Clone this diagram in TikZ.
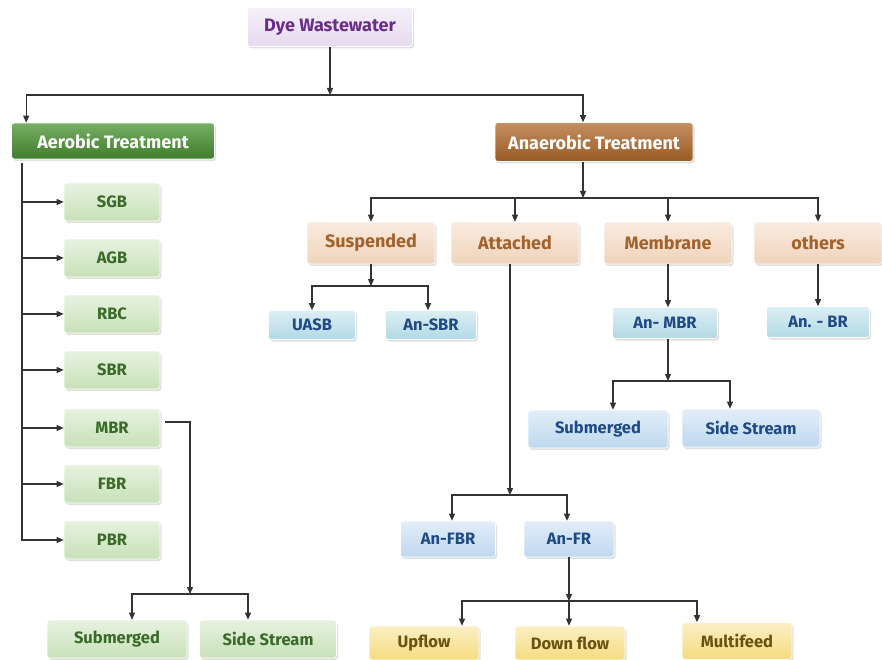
\documentclass[tikz,border=0pt]{standalone}
\usepackage{fontspec}
\setmainfont{Fira Sans}
\usetikzlibrary{arrows.meta, shadows}

\begin{document}
\begin{tikzpicture}[
    x=1pt, y=-1pt,
    every node/.style={font=\fontsize{16.5}{18}\selectfont\bfseries},
]

% ---------------------------------------------------------------- colours
\definecolor{rootfill}{HTML}{E6DAF0}   % dye wastewater
\definecolor{roottext}{HTML}{6A2C8A}
\definecolor{aerfill}{HTML}{4A9332}    % aerobic branch
\definecolor{anafill}{HTML}{B26A2C}    % anaerobic branch
\definecolor{tanfill}{HTML}{F1D3BA}
\definecolor{tantext}{HTML}{A2622C}
\definecolor{greenfill}{HTML}{C8E1B8}
\definecolor{greentext}{HTML}{3A6A28}
\definecolor{tealfill}{HTML}{B2DAE5}
\definecolor{bluefill}{HTML}{BED8EF}
\definecolor{bluetext}{HTML}{1F4A86}
\definecolor{yellowfill}{HTML}{F5DC7E}
\definecolor{yellowtext}{HTML}{6A5210}
\definecolor{linecolor}{HTML}{333333}

% ---------------------------------------------------------------- styles
\tikzset{
    box/.style={
        rectangle, rounded corners=3pt, inner sep=2pt,
        draw=white, line width=0.6pt,
        drop shadow={shadow xshift=1.5pt, shadow yshift=-2pt, opacity=0.25},
    },
    headfont/.style={font=\fontsize{18}{20}\selectfont\bfseries},
    rootbox/.style={box, headfont, top color=rootfill!40!white, bottom color=rootfill,
        text=roottext},
    aerbox/.style={box, headfont, top color=aerfill!75!white, bottom color=aerfill!85!black,
        text=white},
    anabox/.style={box, headfont, top color=anafill!75!white, bottom color=anafill!85!black,
        text=white},
    tanbox/.style={box, headfont, top color=tanfill!45!white, bottom color=tanfill,
        text=tantext, minimum width=128, minimum height=42},
    greenbox/.style={box, top color=greenfill!45!white, bottom color=greenfill,
        text=greentext},
    tealbox/.style={box, top color=tealfill!45!white, bottom color=tealfill,
        text=bluetext},
    bluebox/.style={box, top color=bluefill!45!white, bottom color=bluefill,
        text=bluetext},
    yellowbox/.style={box, top color=yellowfill!45!white, bottom color=yellowfill,
        text=yellowtext, minimum width=110, minimum height=34},
    link/.style={line width=1.2pt, linecolor},
    arr/.style={link, -{Triangle[length=7pt, width=6pt]}},
}

\useasboundingbox (0,0) rectangle (882,660);

% ---------------------------------------------------------------- top levels
\node[rootbox, minimum width=165, minimum height=39] (dye) at (330,27) {Dye Wastewater};
\node[aerbox, minimum width=203, minimum height=36] (aer) at (113,141) {Aerobic Treatment};
\node[anabox, minimum width=198, minimum height=39] (ana) at (594,142) {Anaerobic Treatment};

\coordinate (topbus) at (330,95);
\draw[arr] (dye) -- (topbus);
\draw[arr] (topbus) -| ([xshift=15]aer.north west);
\draw[arr] (topbus) -| ([xshift=-11]ana.north);

% ---------------------------------------------------------------- aerobic
\foreach \n/\t/\y in {sgb/SGB/202, agb/AGB/258, rbc/RBC/314, sbr/SBR/370,
                      mbr/MBR/428, fbr/FBR/484, pbr/PBR/540} {
    \node[greenbox, minimum width=96, minimum height=38] (\n) at (112,\y) {\t};
}

\coordinate (spine) at (22,163);
\draw[arr] (spine) |- (pbr.west);
\foreach \n in {sgb, agb, rbc, sbr, mbr, fbr} {
    \draw[arr] (spine |- \n.west) -- (\n.west);
}

\node[greenbox, minimum width=140, minimum height=38] (gsub) at (117,639) {Submerged};
\node[greenbox, minimum width=137, minimum height=38] (gside) at (268,639) {Side Stream};

\coordinate (mbrbus) at (190,594);
\draw[arr] ([xshift=5,yshift=6]mbr.east) -| (mbrbus);
\draw[arr] (mbrbus) -| ([xshift=15]gsub.north);
\draw[arr] (mbrbus) -| ([xshift=-20]gside.north);

% ---------------------------------------------------------------- anaerobic
\foreach \n/\t/\x in {susp/Suspended/371, att/Attached/515,
                      mem/Membrane/668, oth/others/818} {
    \node[tanbox] (\n) at (\x,243) {\t};
}

\coordinate (anabus) at (583,198);
\draw[arr] ([xshift=-11]ana.south) -- (anabus);
\foreach \n in {susp, att, mem, oth} {
    \draw[arr] (anabus) -| (\n.north);
}

% suspended
\node[tealbox, minimum width=87, minimum height=29] (uasb) at (312,325) {UASB};
\node[tealbox, minimum width=91, minimum height=29] (ansbr) at (431,325) {An-SBR};
\coordinate (suspbus) at (371,286);
\draw[arr] (susp) -- (suspbus);
\draw[arr] (suspbus) -| (uasb.north);
\draw[arr] (suspbus) -| ([xshift=-3]ansbr.north);

% membrane
\node[tealbox, minimum width=105, minimum height=31] (anmbr) at (665,323) {An- MBR};
\draw[arr] (mem) -- (mem |- anmbr.north);
\node[bluebox, minimum width=140, minimum height=38] (bsub) at (598,429) {Submerged};
\node[bluebox, minimum width=138, minimum height=38] (bside) at (751,428) {Side Stream};
\coordinate (mbrbus2) at (668,381);
\draw[arr] (mem |- anmbr.south) -- (mbrbus2);
\draw[arr] (mbrbus2) -| ([xshift=15]bsub.north);
\draw[arr] (mbrbus2) -| ([xshift=-21]bside.north);

% others
\node[tealbox, minimum width=103, minimum height=31] (anbr) at (818,322) {An. - BR};
\draw[arr] (oth) -- (anbr);

% attached
\node[bluebox, minimum width=95, minimum height=36] (anfbr) at (448,539) {An-FBR};
\node[bluebox, minimum width=90, minimum height=36] (anfr) at (569,539) {An-FR};
\coordinate (attbus) at (510,495);
\draw[arr] (att.south -| attbus) -- (attbus);
\draw[arr] (attbus) -| ([xshift=4]anfbr.north);
\draw[arr] (attbus) -| ([xshift=-2]anfr.north);

\node[yellowbox] (up) at (424,643) {Upflow};
\node[yellowbox] (down) at (570,643) {Down flow};
\node[yellowbox, minimum height=37] (multi) at (737,641) {Multifeed};
\coordinate (frbus) at (569,601);
\draw[arr] (anfr) -- (frbus);
\draw[arr] (frbus) -| ([xshift=38]up.north);
\draw[arr] (frbus) -- (down.north -| frbus);
\draw[arr] (frbus) -| ([xshift=-40]multi.north);

\end{tikzpicture}
\end{document}
